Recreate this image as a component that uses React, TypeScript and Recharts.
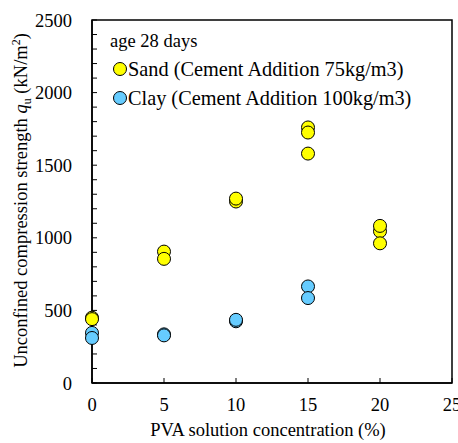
import { ScatterChart, Scatter, XAxis, YAxis, ReferenceArea, Legend } from "recharts";

// PVA solution concentration (%) and unconfined compression strength (kN/m2)
const sandX = [0, 0, 5, 5, 10, 10, 15, 15, 15, 20, 20, 20];
const sandY = [450, 440, 905, 855, 1250, 1270, 1760, 1725, 1580, 1045, 1082, 962];
const clayX = [0, 0, 5, 5, 10, 10, 15, 15];
const clayY = [345, 310, 335, 328, 425, 435, 665, 585];

const xTicks = [0, 5, 10, 15, 20, 25];
const yTicks = [
  0, 100, 200, 300, 400, 500, 600, 700, 800, 900, 1000, 1100, 1200, 1300,
  1400, 1500, 1600, 1700, 1800, 1900, 2000, 2100, 2200, 2300, 2400, 2500,
];
const yLabelTicks = [0, 500, 1000, 1500, 2000, 2500];

const sandData = sandX.map((x, i) => ({ x, y: sandY[i] }));
const clayData = clayX.map((x, i) => ({ x, y: clayY[i] }));

const FONT = "Liberation Serif";
const AXIS_FS = 18.5;
const SAND = "#ffff00";
const CLAY = "#66ccff";

const dot = (fill: string) => (props: any) => (
  <circle cx={props.cx} cy={props.cy} r={6.5} fill={fill} stroke="#000" strokeWidth={1} />
);

const XTick = (props: any) => (
  <text x={props.x} y={props.y} dy="0.71em" textAnchor="middle" fill="#000" style={{ fontFamily: FONT, fontSize: AXIS_FS }}>
    {props.payload.value}
  </text>
);

const YTick = (props: any) => {
  if (!yLabelTicks.includes(props.payload.value)) return null;
  return (
    <text x={props.x} y={props.y} dy="0.355em" textAnchor="end" fill="#000" style={{ fontFamily: FONT, fontSize: AXIS_FS }}>
      {props.payload.value}
    </text>
  );
};

const XTitle = (props: any) => {
  const vb = props.viewBox;
  return (
    <text x={vb.x + vb.width / 2 - 4} y={vb.y + 53} textAnchor="middle" fill="#000" style={{ fontFamily: FONT, fontSize: AXIS_FS }}>
      PVA solution concentration (%)
    </text>
  );
};

const YTitle = (props: any) => {
  const vb = props.viewBox;
  const cy = vb.y + vb.height / 2 - 1;
  const cx = 27;
  return (
    <text
      x={cx}
      y={cy}
      transform={`rotate(-90 ${cx} ${cy})`}
      textAnchor="middle"
      fill="#000"
      style={{ fontFamily: FONT, fontSize: AXIS_FS }}
    >
      Unconfined compression strength <tspan fontStyle="italic">q</tspan>
      <tspan dy={4} fontSize={12}>u</tspan>
      <tspan dy={-4}> (kN/m</tspan>
      <tspan dy={-7} fontSize={12}>2</tspan>
      <tspan dy={7}>)</tspan>
    </text>
  );
};

const LegendBox = () => {
  const row = { display: "flex", alignItems: "center", whiteSpace: "nowrap" as const };
  const mark = (fill: string) => (
    <svg width={16} height={16}>
      <circle cx={8} cy={8} r={6.5} fill={fill} stroke="#000" strokeWidth={1} />
    </svg>
  );
  return (
    <div style={{ fontFamily: FONT, color: "#000", textAlign: "left" }}>
      <div style={{ ...row, height: 27, fontSize: 18.5, marginLeft: -2 }}>age 28 days</div>
      <div style={{ ...row, height: 28, fontSize: 20.3 }}>
        {mark(SAND)}
        Sand (Cement Addition 75kg/m3)
      </div>
      <div style={{ ...row, height: 30, fontSize: 20.3 }}>
        {mark(CLAY)}
        Clay (Cement Addition 100kg/m3)
      </div>
    </div>
  );
};

export default function App() {
  return (
    <div style={{ position: "absolute", left: 0, top: 0, fontFamily: FONT }}>
      <ScatterChart width={458} height={443} margin={{ top: 20, right: 6, bottom: 0, left: 0 }}>
        <XAxis
          type="number"
          dataKey="x"
          domain={[0, 25]}
          ticks={xTicks}
          interval={0}
          height={60}
          tickSize={-5}
          tickMargin={20}
          tick={<XTick />}
          axisLine={{ stroke: "#000", strokeWidth: 1.5 }}
          tickLine={{ stroke: "#000", strokeWidth: 1 }}
          label={<XTitle />}
        />
        <YAxis
          type="number"
          dataKey="y"
          domain={[0, 2500]}
          ticks={yTicks}
          interval={0}
          width={92}
          tickSize={-5}
          tickMargin={25}
          tick={<YTick />}
          axisLine={{ stroke: "#000", strokeWidth: 1.5 }}
          tickLine={{ stroke: "#000", strokeWidth: 1 }}
          label={<YTitle />}
        />
        <ReferenceArea x1={0} x2={25} y1={0} y2={2500} fill="none" stroke="#000" strokeWidth={1.5} />
        <Legend
          layout="vertical"
          align="center"
          verticalAlign="middle"
          content={<LegendBox />}
          wrapperStyle={{ position: "absolute", top: 28, left: 112, width: "auto" }}
        />
        <Scatter name="Sand" data={sandData} shape={dot(SAND)} isAnimationActive={false} />
        <Scatter name="Clay" data={clayData} shape={dot(CLAY)} isAnimationActive={false} />
      </ScatterChart>
    </div>
  );
}
